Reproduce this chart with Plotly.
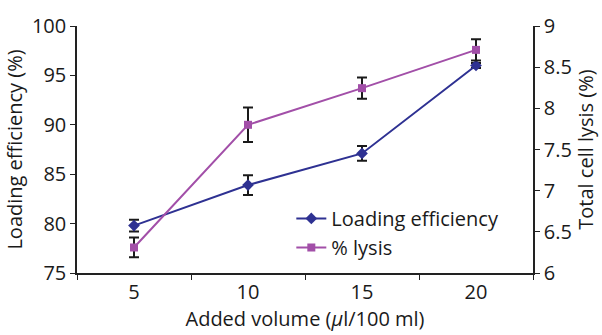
import plotly.graph_objects as go

volumes = ["5", "10", "15", "20"]
loading_eff = [79.8, 83.9, 87.1, 96.0]
loading_err = [0.6, 1.0, 0.75, 0.25]
lysis = [6.31, 7.80, 8.245, 8.71]
lysis_err = [0.12, 0.21, 0.13, 0.13]

FONT = "Open Sans"
BLUE = "#2E3192"
PURPLE = "#A24FA8"
FS = 20

fig = go.Figure()
fig.add_trace(go.Scatter(
    x=volumes, y=loading_eff, name="Loading efficiency", mode="lines+markers",
    line=dict(color=BLUE, width=2), marker=dict(symbol="diamond", size=9, color=BLUE),
    error_y=dict(type="data", array=loading_err, color="#1a1a1a", thickness=2, width=5),
))
fig.add_trace(go.Scatter(
    x=volumes, y=lysis, name="% lysis", mode="lines+markers", yaxis="y2",
    line=dict(color=PURPLE, width=2), marker=dict(symbol="square", size=8, color=PURPLE),
    error_y=dict(type="data", array=lysis_err, color="#1a1a1a", thickness=2, width=5),
))

axis_common = dict(showgrid=False, zeroline=False, showline=True, linecolor="#222",
                   linewidth=1.5, ticks="outside", ticklen=5, tickcolor="#222",
                   tickfont=dict(family=FONT, size=FS, color="#1a1a1a"))

fig.update_layout(
    width=602, height=335,
    margin=dict(l=77, r=69, t=20, b=62),
    paper_bgcolor="white", plot_bgcolor="white",
    font=dict(family=FONT, size=FS, color="#1a1a1a"),
    xaxis=dict(**axis_common, type="category", tickson="boundaries", range=[-0.5, 3.5],
               title=dict(text="Added volume (<i>μ</i>l/100 ml)", font=dict(family=FONT, size=FS), standoff=3)),
    yaxis=dict(**axis_common, range=[75, 100], tickvals=[75, 80, 85, 90, 95, 100],
               title=dict(text="Loading efficiency (%)", font=dict(family=FONT, size=FS), standoff=4)),
    yaxis2=dict(**axis_common, overlaying="y", side="right", range=[6, 9],
                tickvals=[6, 6.5, 7, 7.5, 8, 8.5, 9],
                title=dict(text="Total cell lysis (%)", font=dict(family=FONT, size=FS), standoff=4)),
    legend=dict(x=0.47, y=0.3, xanchor="left", yanchor="top", bgcolor="rgba(0,0,0,0)",
                font=dict(family=FONT, size=FS), tracegroupgap=0, itemwidth=30),
    showlegend=True,
)

fig.write_html("out.html", config={"displayModeBar": False},
               post_script="document.body.style.margin='0';")
